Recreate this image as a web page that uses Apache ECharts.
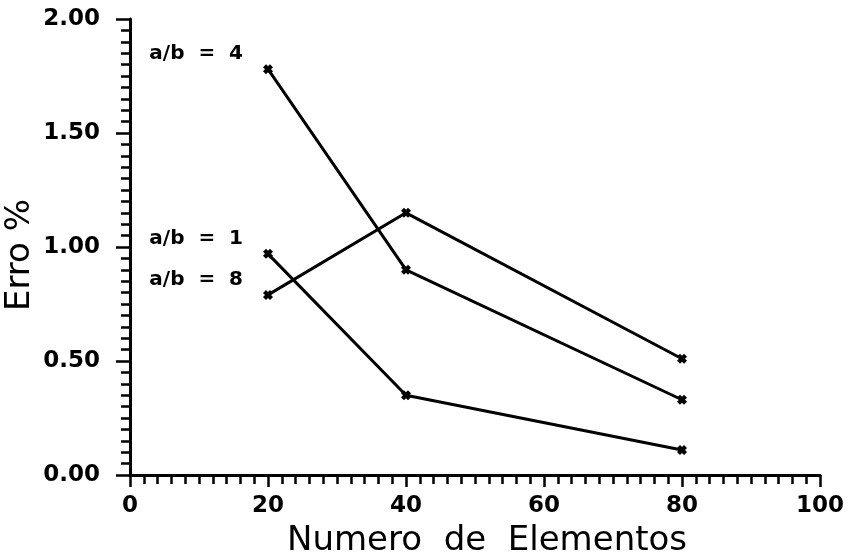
<!DOCTYPE html>
<html>
<head>
<meta charset="utf-8">
<script src="https://cdn.jsdelivr.net/npm/echarts@6/dist/echarts.min.js"></script>
<style>
  html, body { margin: 0; padding: 0; background: #fff; }
  #chart { width: 851px; height: 552px; }
</style>
</head>
<body>
<div id="chart"></div>
<script>
// Number of elements along the x axis
const elementos = [20, 40, 80];

// Error (%) for each aspect ratio a/b
const erroRatio4 = [1.78, 0.90, 0.33];
const erroRatio1 = [0.97, 0.35, 0.11];
const erroRatio8 = [0.79, 1.15, 0.51];

const seriesNames = ['a/b  =  4', 'a/b  =  1', 'a/b  =  8'];
const seriesValues = [erroRatio4, erroRatio1, erroRatio8];

const xTicks = { min: 0, max: 100, step: 20 };
const yTicks = { min: 0, max: 2, step: 0.5 };

const font = 'DejaVu Sans';
const crossPath = 'path://M0,3 L3,0 L5,2 L7,0 L10,3 L8,5 L10,7 L7,10 L5,8 L3,10 L0,7 L2,5 Z';

const series = seriesNames.map((name, i) => ({
  name: name,
  type: 'line',
  data: elementos.map((x, j) => [x, seriesValues[i][j]]),
  symbol: crossPath,
  symbolSize: 10,
  showSymbol: true,
  lineStyle: { color: '#000', width: 3 },
  itemStyle: { color: '#000' },
  label: {
    show: true,
    position: 'left',
    distance: 20,
    offset: [0, -15],
    color: '#000',
    fontFamily: font,
    fontWeight: 'bold',
    fontSize: 20,
    formatter: p => (p.dataIndex === 0 ? p.seriesName : '')
  },
  emphasis: { disabled: true },
  animation: false
}));

const chart = echarts.init(document.getElementById('chart'), null, { renderer: 'canvas' });
chart.setOption({
  backgroundColor: '#fff',
  animation: false,
  grid: { left: 130, right: 31, top: 19, bottom: 77, containLabel: false, outerBoundsMode: 'none' },
  xAxis: {
    type: 'value',
    min: xTicks.min,
    max: xTicks.max,
    interval: xTicks.step,
    name: 'Numero  de  Elementos',
    nameLocation: 'middle',
    nameGap: 49,
    nameMoveOverlap: false,
    nameTextStyle: { color: '#000', fontFamily: font, fontSize: 34, padding: [0, 0, 0, 24] },
    axisLine: { show: true, lineStyle: { color: '#000', width: 3 } },
    axisTick: { show: true, inside: false, length: 12, lineStyle: { color: '#000', width: 2.5 } },
    minorTick: { show: true, splitNumber: 10, length: 9, lineStyle: { color: '#000', width: 2.5 } },
    axisLabel: { color: '#000', fontFamily: font, fontWeight: 'bold', fontSize: 23, margin: 20 },
    splitLine: { show: false },
    minorSplitLine: { show: false }
  },
  yAxis: {
    type: 'value',
    min: yTicks.min,
    max: yTicks.max,
    interval: yTicks.step,
    name: 'Erro %',
    nameLocation: 'middle',
    nameRotate: 90,
    nameGap: 93,
    nameMoveOverlap: false,
    nameTextStyle: { color: '#000', fontFamily: font, fontSize: 34, padding: [0, 16, 0, 0] },
    axisLine: { show: true, lineStyle: { color: '#000', width: 3 } },
    axisTick: { show: true, inside: false, length: 14, lineStyle: { color: '#000', width: 2.5 } },
    minorTick: { show: true, splitNumber: 10, length: 9, lineStyle: { color: '#000', width: 2.5 } },
    axisLabel: {
      color: '#000', fontFamily: font, fontWeight: 'bold', fontSize: 23, margin: 30,
      formatter: v => v.toFixed(2)
    },
    splitLine: { show: false },
    minorSplitLine: { show: false }
  },
  series: series
});
</script>
</body>
</html>
